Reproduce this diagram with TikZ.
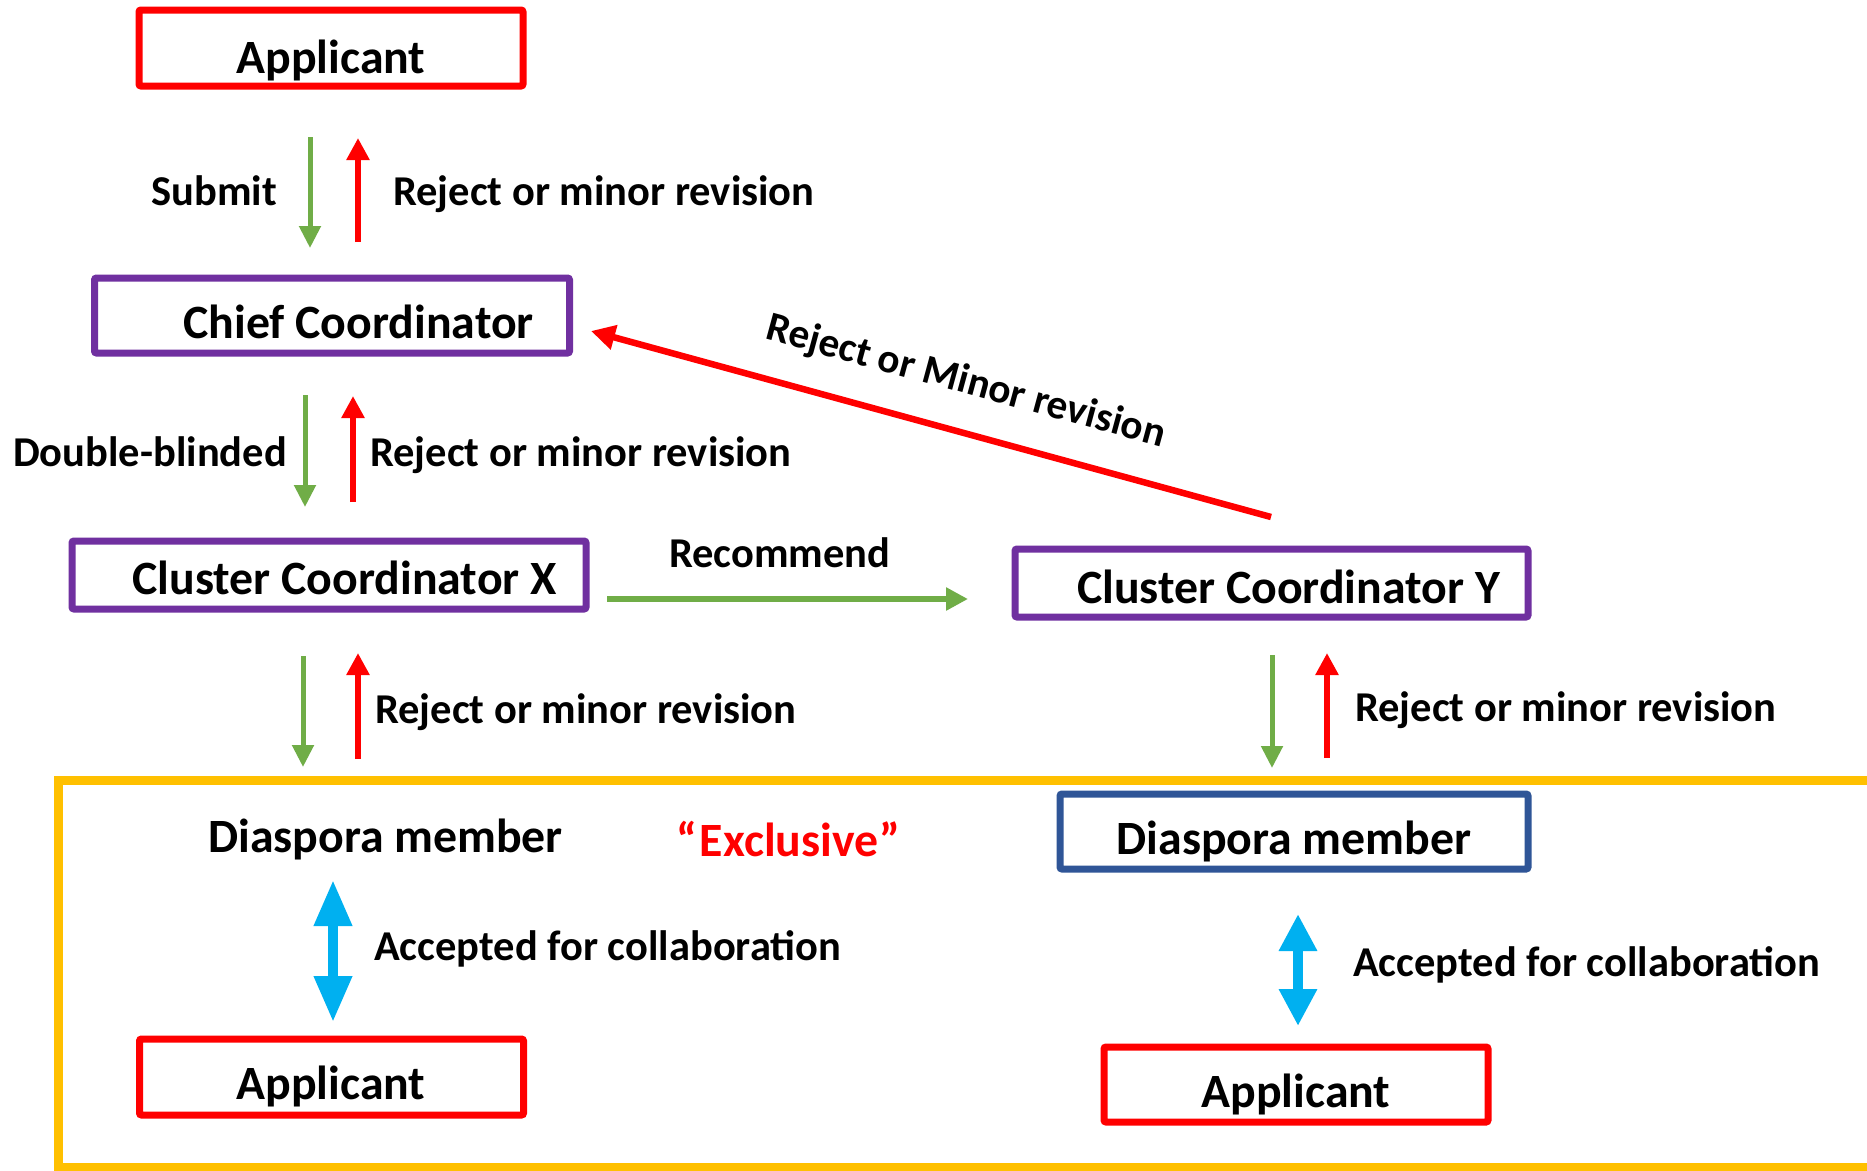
\documentclass[tikz,border=0pt]{standalone}
\usepackage{fontspec}
\setmainfont{Carlito}
\usetikzlibrary{arrows.meta}
\definecolor{cred}{HTML}{FF0000}
\definecolor{cpurple}{HTML}{7030A0}
\definecolor{cgreen}{HTML}{70AD47}
\definecolor{cblue}{HTML}{00B0F0}
\definecolor{cyellow}{HTML}{FFC000}
\definecolor{cnavy}{HTML}{2F5597}
\begin{document}
\begin{tikzpicture}[x=1pt,y=-1pt,
  boxnode/.style={draw=#1, line width=7pt, rounded corners=2pt, inner sep=0pt},
  boxtext/.style={font=\fontsize{47.8}{54}\selectfont\bfseries, inner sep=0pt},
  lbl/.style={font=\fontsize{42.5}{49}\selectfont\bfseries, inner sep=0pt},
  garr/.style={draw=cgreen, line width=5pt, -{Triangle[length=22pt,width=21pt]}},
  rarr/.style={draw=cred, line width=6pt, -{Triangle[length=22pt,width=22pt]}},
  barr/.style={draw=cblue, line width=10pt, {Triangle[length=#1pt,width=36pt]}-{Triangle[length=#1pt,width=36pt]}},
]
\clip (0,0) rectangle (1867,1170);
\fill[white] (0,0) rectangle (1867,1170);

% yellow frame
\draw[cyellow, line width=9pt] (1900,780) -- (58,780) -- (58,1167) -- (1900,1167);

% boxes
\node[boxnode=cred, minimum width=384pt, minimum height=76pt] (app1) at (331,48) {};
\node[boxnode=cpurple, minimum width=475pt, minimum height=75pt] (chief) at (332,315.5) {};
\node[boxnode=cpurple, minimum width=514pt, minimum height=68pt] (ccx) at (329,575) {};
\node[boxnode=cpurple, minimum width=513pt, minimum height=68pt] (ccy) at (1271.5,583) {};
\node[boxnode=cnavy, minimum width=468pt, minimum height=75pt] (dmy) at (1294,831.5) {};
\node[boxnode=cred, minimum width=384pt, minimum height=76pt] (app2) at (331.5,1077) {};
\node[boxnode=cred, minimum width=384pt, minimum height=75pt] (app3) at (1296,1084.5) {};

% box texts
\node[boxtext, anchor=base] (tapp1) at (331,73) {Applicant};
\node[boxtext, anchor=base east] (tchief) at (534,338) {Chief Coordinator};
\node[boxtext, anchor=base east] (tccx) at (557,594) {Cluster Coordinator X};
\node[boxtext, anchor=base east] (tccy) at (1500,603) {Cluster Coordinator Y};
\node[boxtext, anchor=base] (tdmy) at (1294,854) {Diaspora member};
\node[boxtext, anchor=base] (tapp2) at (331,1099) {Applicant};
\node[boxtext, anchor=base] (tapp3) at (1296,1107) {Applicant};
\node[boxtext, anchor=base west] (dmx) at (208,852) {Diaspora member};
\node[boxtext, anchor=base west, text=cred] (excl) at (676,856) {“\kern3ptExclusive\kern1pt”};

% labels
\node[lbl, anchor=base east] (lsub) at (277,205) {Submit};
\node[lbl, anchor=base west] (lrej1) at (393,205) {Reject or minor revision};
\node[lbl, anchor=base east] (ldbl) at (287,466) {Double-blinded};
\node[lbl, anchor=base west] (lrej2) at (370,466) {Reject or minor revision};
\node[lbl, anchor=base west] (lrec) at (669,567) {Recommend};
\node[lbl, anchor=base west] (lrej3) at (375,723) {Reject or minor revision};
\node[lbl, anchor=base west] (lrejy) at (1355,721) {Reject or minor revision};
\node[lbl, anchor=base west] (lacc1) at (374,960) {Accepted for collaboration};
\node[lbl, anchor=base west] (lacc2) at (1353,976) {Accepted for collaboration};
\node[lbl, font=\fontsize{41.3}{48}\selectfont\bfseries, anchor=base, rotate=-15.2] (ldiag) at (963,393) {Reject or Minor revision};

% arrow end points
\coordinate (g1a) at (310,137); \coordinate (g1b) at (310,248);
\coordinate (r1a) at (358,242); \coordinate (r1b) at (358,138);
\coordinate (g2a) at (305,395); \coordinate (g2b) at (305,507);
\coordinate (r2a) at (353,502); \coordinate (r2b) at (353,396);
\coordinate (g3a) at (303,656); \coordinate (g3b) at (303,767);
\coordinate (r3a) at (358,759); \coordinate (r3b) at (358,653);
\coordinate (gya) at (1272,655); \coordinate (gyb) at (1272,768);
\coordinate (rya) at (1327,758); \coordinate (ryb) at (1327,653);
\coordinate (reca) at (607,599); \coordinate (recb) at (968,599);
\coordinate (da) at (1271,517); \coordinate (db) at (591,331);
\coordinate (bla) at (333,880); \coordinate (blb) at (333,1022);
\coordinate (bra) at (1298,914); \coordinate (brb) at (1298,1026);

% arrows
\draw[garr] (g1a) -- (g1b);
\draw[rarr] (r1a) -- (r1b);
\draw[garr] (g2a) -- (g2b);
\draw[rarr] (r2a) -- (r2b);
\draw[garr] (g3a) -- (g3b);
\draw[rarr] (r3a) -- (r3b);
\draw[garr] (gya) -- (gyb);
\draw[rarr] (rya) -- (ryb);
\draw[garr, line width=6pt, -{Triangle[length=22pt,width=22pt]}] (reca) -- (recb);
\draw[rarr, line width=6.5pt, -{Triangle[length=24pt,width=24pt]}] (da) -- (db);
\draw[barr=46] (bla) -- (blb);
\draw[barr=37] (bra) -- (brb);
\end{tikzpicture}
\end{document}
